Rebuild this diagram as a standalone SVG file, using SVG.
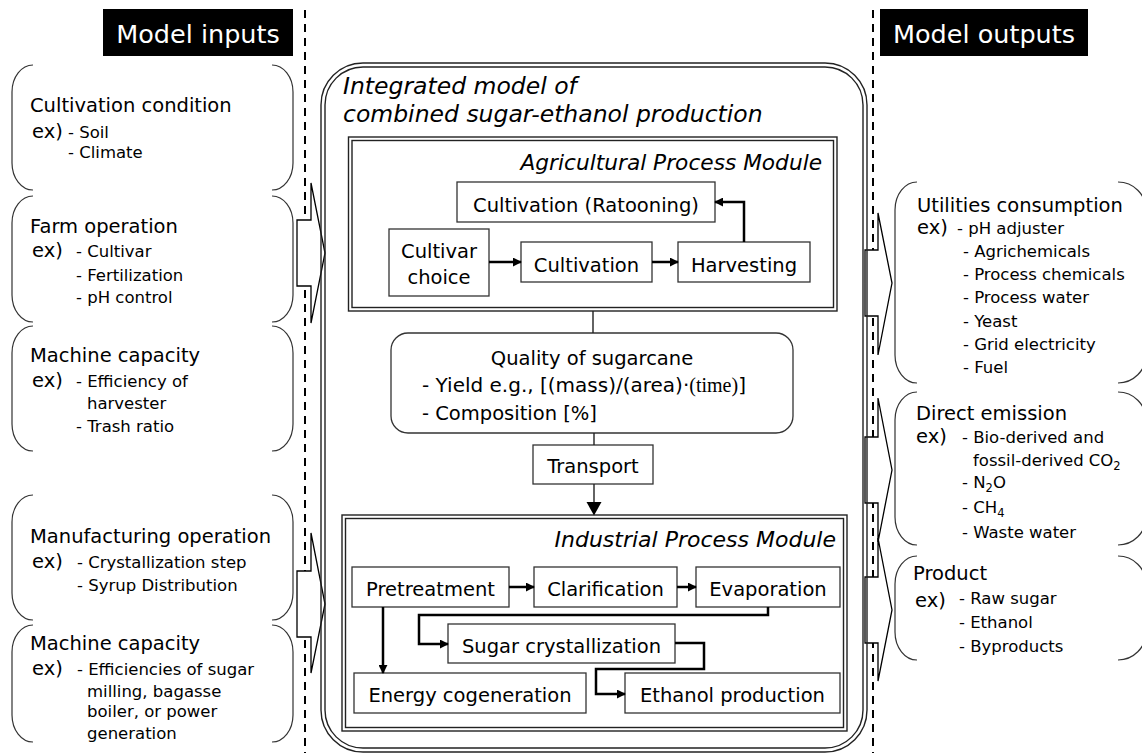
<svg xmlns="http://www.w3.org/2000/svg" width="1142" height="753" viewBox="0 0 1142 753">
  <defs>
    <style>
      .t { font-family: "DejaVu Sans", Verdana, sans-serif; fill: #000; }
      .h { font-size: 19.5px; }
      .s { font-size: 16.5px; }
      .sub { font-size: 11.5px; }
      .it { font-style: italic; }
      .hdr { font-size: 25.5px; fill: #fff; }
      .box { fill: #fff; stroke: #333; stroke-width: 1.3; }
      .br { fill: none; stroke: #333; stroke-width: 1.2; }
      .dbl { fill: none; stroke: #222; stroke-width: 1.4; }
      .flow { fill: none; stroke: #000; stroke-width: 2.5; marker-end: url(#ah); }
      .thin { fill: none; stroke: #222; stroke-width: 1.4; }
      .blk { fill: #fff; stroke: #000; stroke-width: 1.3; stroke-linejoin: miter; }
      .dash { stroke: #000; stroke-width: 2; stroke-dasharray: 8 6; }
    </style>
    <marker id="ah" viewBox="0 0 10 10" refX="9" refY="5" markerWidth="9" markerHeight="9" markerUnits="userSpaceOnUse" orient="auto">
      <path d="M0,0 L10,5 L0,10 z" fill="#000"/>
    </marker>
  </defs>

  <rect width="1142" height="753" fill="#fff"/>

  <!-- column separators -->
  <g id="separators">
    <line class="dash" x1="305" y1="10" x2="305" y2="753"/>
    <line class="dash" x1="873" y1="10" x2="873" y2="753"/>
  </g>

  <!-- column headers -->
  <g id="hdr-inputs">
    <rect x="103" y="9" width="190" height="47" fill="#000"/>
    <text class="t hdr" x="198" y="43" text-anchor="middle">Model inputs</text>
  </g>
  <g id="hdr-outputs">
    <rect x="880" y="9" width="208" height="47" fill="#000"/>
    <text class="t hdr" x="984" y="43" text-anchor="middle">Model outputs</text>
  </g>

  <!-- block arrows into and out of the model -->
  <g id="block-arrows">
    <polygon class="blk" points="297,220 311,220 311,183 325,253 311,323 311,286 297,286"/>
    <polygon class="blk" points="297,571 311,571 311,533 325,604 311,673 311,637 297,637"/>
    <polygon class="blk" points="865,250 878,250 878,213 892,283 878,355 878,316 865,316"/>
    <polygon class="blk" points="865,437 878,437 878,398 892,470 878,542 878,503 865,503"/>
    <polygon class="blk" points="865,577 878,577 878,538 892,610 878,681 878,643 865,643"/>
  </g>

  <!-- integrated model container -->
  <g id="model">
    <rect class="dbl" x="321" y="63" width="546" height="689" rx="42" ry="42"/>
    <rect class="dbl" x="325" y="67" width="538" height="681" rx="38" ry="38"/>
    <text class="t it" font-size="23.5" x="343" y="94">Integrated model of</text>
    <text class="t it" font-size="23.5" x="343" y="122">combined sugar-ethanol production</text>
  </g>

  <!-- agricultural module -->
  <g id="agri-module">
    <rect class="dbl" x="348.5" y="137" width="488.5" height="174"/>
    <rect class="dbl" x="352" y="140.5" width="481.5" height="167"/>
    <text class="t it" font-size="21.7" x="822" y="170" text-anchor="end">Agricultural Process Module</text>
  </g>
  <g id="ratooning">
    <rect class="box" x="457" y="182" width="258" height="40"/>
    <text class="t h" x="586" y="212" text-anchor="middle">Cultivation (Ratooning)</text>
  </g>
  <g id="cultivar">
    <rect class="box" x="389" y="229" width="100" height="67"/>
    <text class="t h" x="439" y="258" text-anchor="middle">Cultivar</text>
    <text class="t h" x="439" y="284" text-anchor="middle">choice</text>
  </g>
  <g id="cultivation">
    <rect class="box" x="521" y="242" width="131" height="40"/>
    <text class="t h" x="586.5" y="272" text-anchor="middle">Cultivation</text>
  </g>
  <g id="harvesting">
    <rect class="box" x="678" y="242" width="132" height="40"/>
    <text class="t h" x="744" y="272" text-anchor="middle">Harvesting</text>
  </g>

  <!-- sugarcane quality -->
  <g id="quality">
    <rect class="box" x="391" y="333" width="402" height="100" rx="17" ry="17"/>
    <text class="t h" x="592" y="365" text-anchor="middle">Quality of sugarcane</text>
    <text class="t" font-size="20" x="422" y="392">- Yield e.g., [(mass)/(area)·<tspan font-family="'Liberation Serif', 'Times New Roman', serif" font-size="20">(time)</tspan>]</text>
    <text class="t h" x="422" y="420">- Composition [%]</text>
  </g>
  <g id="transport">
    <rect class="box" x="533" y="445" width="120" height="39"/>
    <text class="t h" x="593" y="473" text-anchor="middle">Transport</text>
  </g>

  <!-- industrial module -->
  <g id="ind-module">
    <rect class="dbl" x="342" y="515" width="505" height="216"/>
    <rect class="dbl" x="345.5" y="518.5" width="498" height="209"/>
    <text class="t it" font-size="22" x="836" y="547" text-anchor="end">Industrial Process Module</text>
  </g>
  <g id="pretreatment">
    <rect class="box" x="352" y="567" width="157" height="40"/>
    <text class="t h" x="430.5" y="596" text-anchor="middle">Pretreatment</text>
  </g>
  <g id="clarification">
    <rect class="box" x="534" y="567" width="143" height="40"/>
    <text class="t h" x="605.5" y="596" text-anchor="middle">Clarification</text>
  </g>
  <g id="evaporation">
    <rect class="box" x="696" y="567" width="144" height="40"/>
    <text class="t h" x="768" y="596" text-anchor="middle">Evaporation</text>
  </g>
  <g id="crystallization">
    <rect class="box" x="448" y="624" width="227" height="39"/>
    <text class="t h" x="561.5" y="653" text-anchor="middle">Sugar crystallization</text>
  </g>
  <g id="cogeneration">
    <rect class="box" x="354" y="673" width="232" height="40"/>
    <text class="t h" x="470" y="702" text-anchor="middle">Energy cogeneration</text>
  </g>
  <g id="ethanol">
    <rect class="box" x="625" y="673" width="215" height="40"/>
    <text class="t h" x="732.5" y="702" text-anchor="middle">Ethanol production</text>
  </g>

  <!-- process flow connectors -->
  <g id="connectors">
    <line class="flow" x1="489" y1="262" x2="521" y2="262"/>
    <line class="flow" x1="652" y1="262" x2="678" y2="262"/>
    <polyline class="flow" points="744,242 744,202 715,202"/>
    <line class="thin" x1="593" y1="311" x2="593" y2="333"/>
    <line class="thin" x1="594" y1="433" x2="594" y2="445"/>
    <line class="thin" x1="594" y1="484" x2="594" y2="503"/>
    <polygon points="586.5,502 601.5,502 594,515.5" fill="#000"/>
    <line class="flow" x1="509" y1="587" x2="534" y2="587"/>
    <line class="flow" x1="677" y1="587" x2="696" y2="587"/>
    <polyline class="flow" points="768,607 768,615 419,615 419,644 448,644"/>
    <polyline class="flow" points="675,643 704,643 704,669 596,669 596,694 625,694"/>
    <line class="flow" x1="383" y1="607" x2="383" y2="673"/>
  </g>

  <!-- model inputs -->
  <g id="in-cultivation">
    <path class="br" d="M33,65 A21,27 0 0 0 12,92 V163 A21,27 0 0 0 33,190 M272,65 A21,27 0 0 1 293,92 V163 A21,27 0 0 1 272,190"/>
    <text class="t h" x="30" y="112">Cultivation condition</text>
    <text class="t h" x="32" y="138">ex)</text>
    <text class="t s" x="68" y="138">- Soil</text>
    <text class="t s" x="68" y="158">- Climate</text>
  </g>
  <g id="in-farm">
    <path class="br" d="M33,196 A21,27 0 0 0 12,223 V295 A21,27 0 0 0 33,322 M272,196 A21,27 0 0 1 293,223 V295 A21,27 0 0 1 272,322"/>
    <text class="t h" x="30" y="233">Farm operation</text>
    <text class="t h" x="32" y="257">ex)</text>
    <text class="t s" x="76" y="257">- Cultivar</text>
    <text class="t s" x="76" y="281">- Fertilization</text>
    <text class="t s" x="76" y="303">- pH control</text>
  </g>
  <g id="in-machine-farm">
    <path class="br" d="M33,326 A21,27 0 0 0 12,353 V424 A21,27 0 0 0 33,451 M272,326 A21,27 0 0 1 293,353 V424 A21,27 0 0 1 272,451"/>
    <text class="t h" x="30" y="362">Machine capacity</text>
    <text class="t h" x="32" y="387">ex)</text>
    <text class="t s" x="76" y="387">- Efficiency of</text>
    <text class="t s" x="87" y="409">harvester</text>
    <text class="t s" x="76" y="432">- Trash ratio</text>
  </g>
  <g id="in-manufacturing">
    <path class="br" d="M33,495 A21,27 0 0 0 12,522 V593 A21,27 0 0 0 33,620 M272,495 A21,27 0 0 1 293,522 V593 A21,27 0 0 1 272,620"/>
    <text class="t h" x="30" y="543">Manufacturing operation</text>
    <text class="t h" x="32" y="568">ex)</text>
    <text class="t s" x="77" y="568">- Crystallization step</text>
    <text class="t s" x="77" y="591">- Syrup Distribution</text>
  </g>
  <g id="in-machine-mill">
    <path class="br" d="M33,625 A21,27 0 0 0 12,652 V715 A21,27 0 0 0 33,742 M272,625 A21,27 0 0 1 293,652 V715 A21,27 0 0 1 272,742"/>
    <text class="t h" x="30" y="650">Machine capacity</text>
    <text class="t h" x="32" y="675">ex)</text>
    <text class="t s" x="77" y="675">- Efficiencies of sugar</text>
    <text class="t s" x="87" y="697">milling, bagasse</text>
    <text class="t s" x="87" y="717">boiler, or power</text>
    <text class="t s" x="87" y="739">generation</text>
  </g>

  <!-- model outputs -->
  <g id="out-utilities">
    <path class="br" d="M917,182 A22,28 0 0 0 895,210 V355 A22,28 0 0 0 917,383 M1118,182 A28,28 0 0 1 1146,210 V355 A28,28 0 0 1 1118,383"/>
    <text class="t h" x="917" y="212">Utilities consumption</text>
    <text class="t h" x="917" y="234">ex)</text>
    <text class="t s" x="957" y="234">- pH adjuster</text>
    <text class="t s" x="963" y="257">- Agrichemicals</text>
    <text class="t s" x="963" y="280">- Process chemicals</text>
    <text class="t s" x="963" y="303">- Process water</text>
    <text class="t s" x="963" y="327">- Yeast</text>
    <text class="t s" x="963" y="350">- Grid electricity</text>
    <text class="t s" x="963" y="373">- Fuel</text>
  </g>
  <g id="out-emission">
    <path class="br" d="M917,392 A22,28 0 0 0 895,420 V517 A22,28 0 0 0 917,545 M1118,392 A28,28 0 0 1 1146,420 V517 A28,28 0 0 1 1118,545"/>
    <text class="t h" x="916" y="420">Direct emission</text>
    <text class="t h" x="916" y="443">ex)</text>
    <text class="t s" x="962" y="443">- Bio-derived and</text>
    <text class="t s" x="973" y="466">fossil-derived CO<tspan class="sub" dy="4">2</tspan></text>
    <text class="t s" x="962" y="488">- N<tspan class="sub" dy="4">2</tspan><tspan dy="-4">O</tspan></text>
    <text class="t s" x="962" y="513">- CH<tspan class="sub" dy="4">4</tspan></text>
    <text class="t s" x="962" y="538">- Waste water</text>
  </g>
  <g id="out-product">
    <path class="br" d="M917,556 A22,28 0 0 0 895,584 V632 A22,28 0 0 0 917,660 M1118,556 A28,28 0 0 1 1146,584 V632 A28,28 0 0 1 1118,660"/>
    <text class="t h" x="913" y="580">Product</text>
    <text class="t h" x="915" y="607">ex)</text>
    <text class="t s" x="959" y="604">- Raw sugar</text>
    <text class="t s" x="959" y="628">- Ethanol</text>
    <text class="t s" x="959" y="652">- Byproducts</text>
  </g>
</svg>
